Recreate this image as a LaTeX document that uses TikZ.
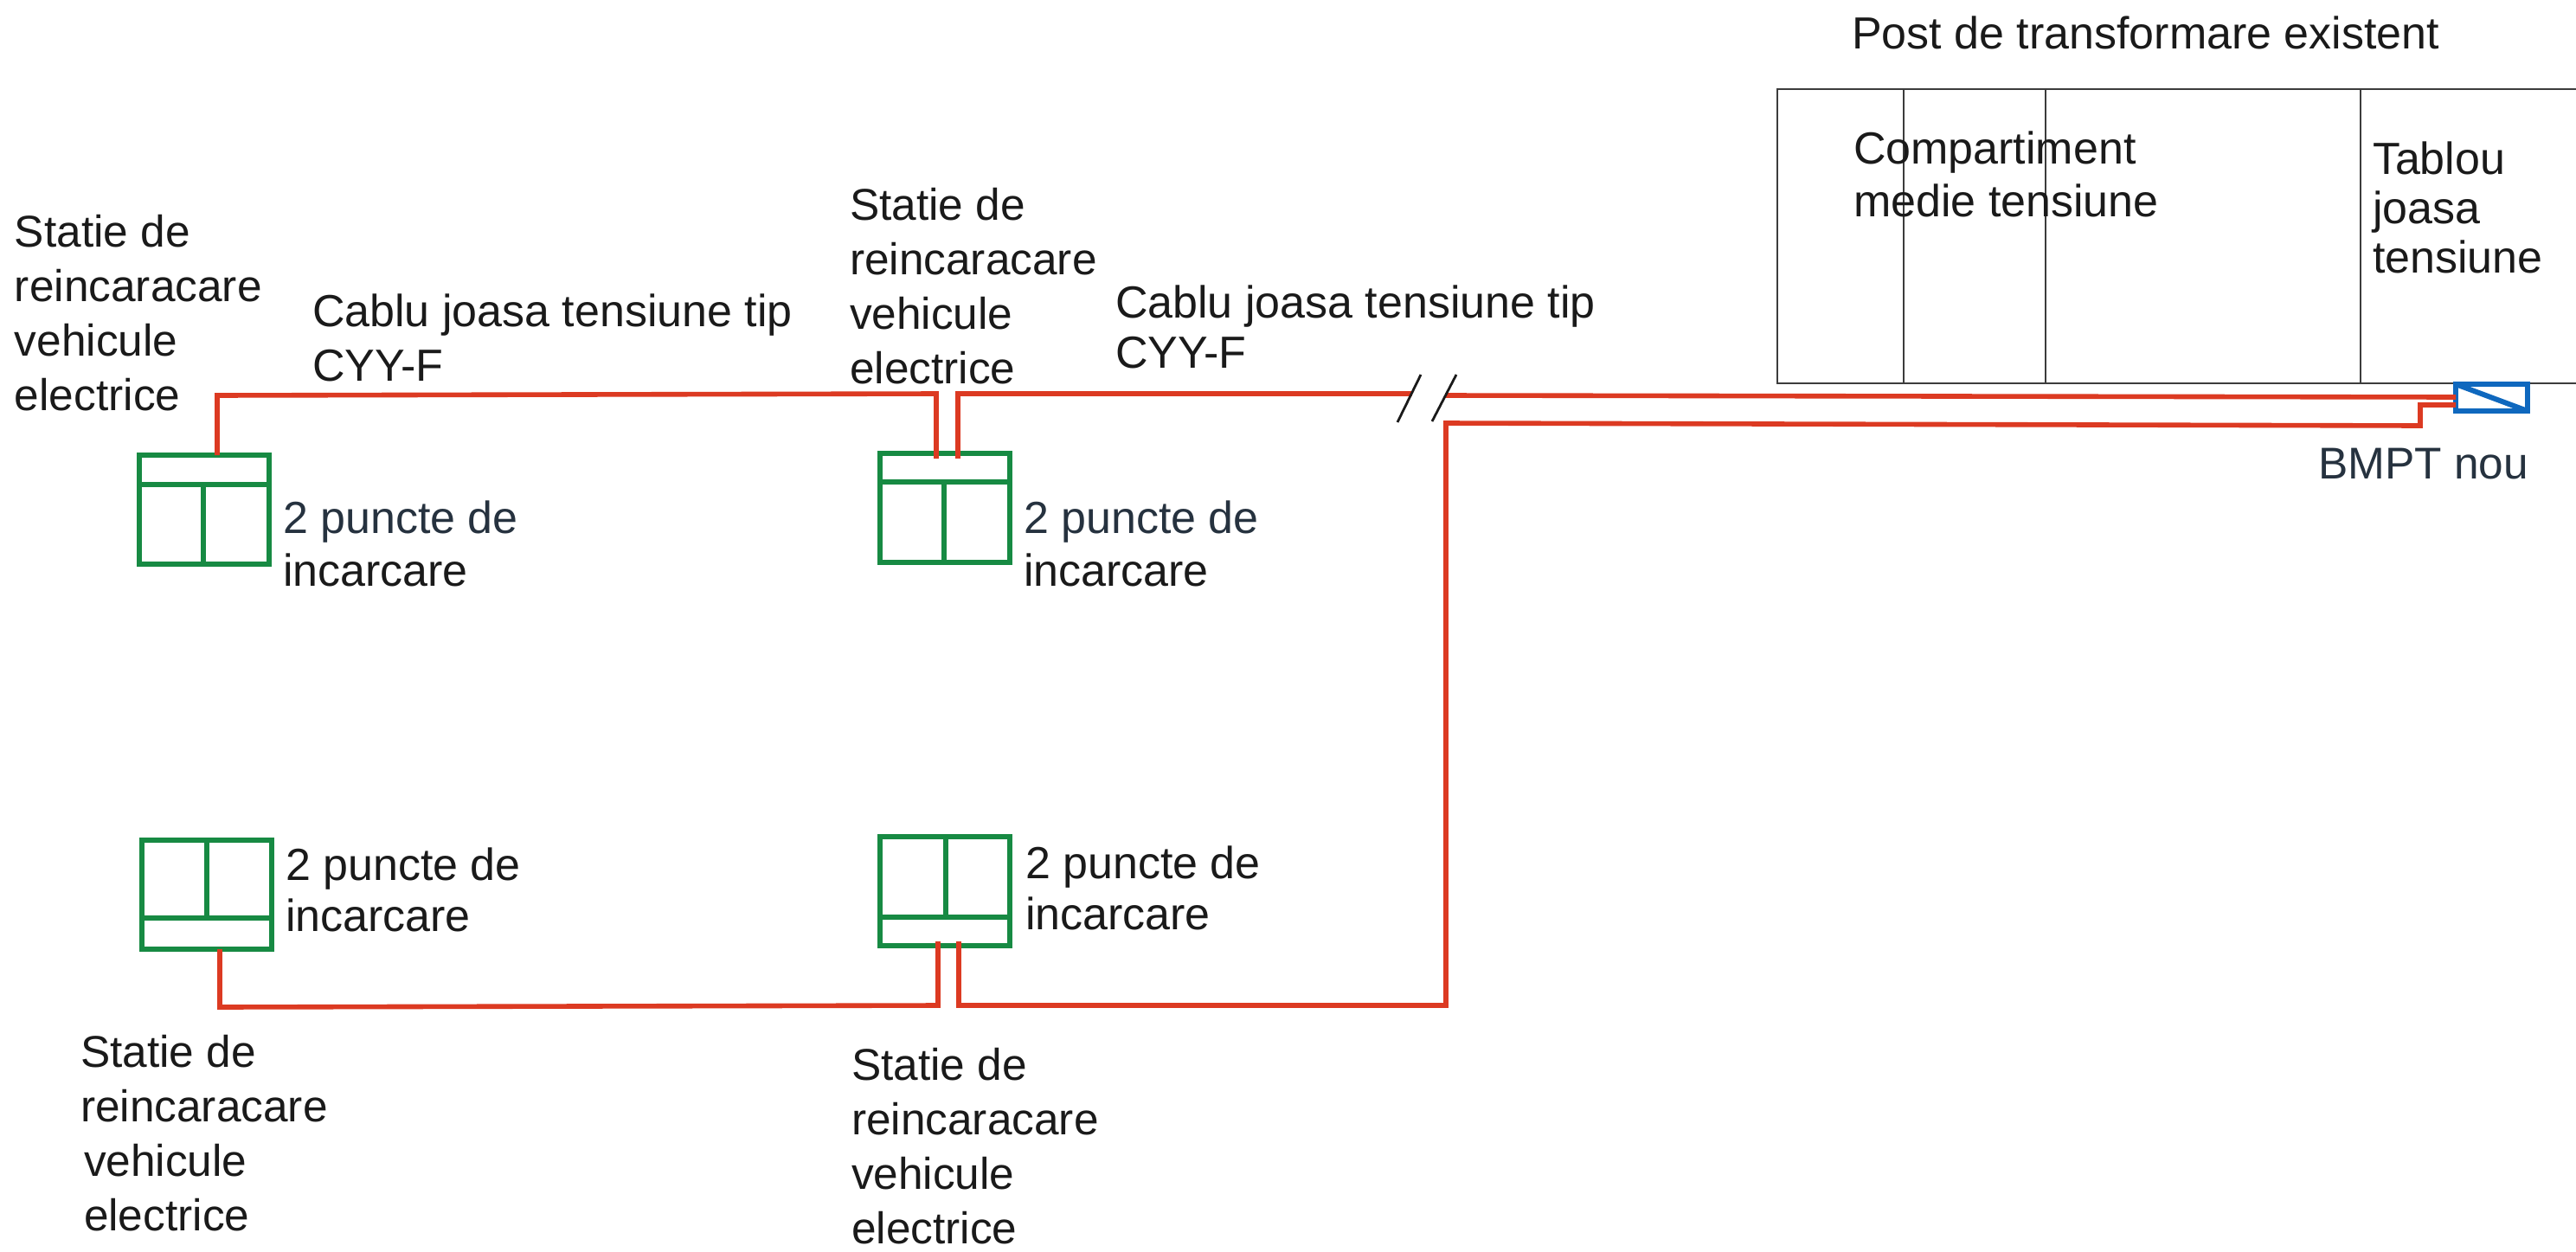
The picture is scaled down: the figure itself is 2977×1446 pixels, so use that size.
\documentclass[tikz,border=0pt]{standalone}
\usepackage{fontspec}
\setmainfont{Liberation Sans}
\definecolor{cable}{HTML}{DC3A22}
\definecolor{evgreen}{HTML}{178A43}
\definecolor{bmpt}{HTML}{0F68BE}
\definecolor{inkblue}{HTML}{26323F}
\definecolor{ink}{HTML}{1A1A1A}
\tikzset{
  lab/.style={anchor=north west,inner sep=0pt,outer sep=0pt,align=left,text=ink,font=\fontsize{26pt}{#1pt}\selectfont},
  lab/.default=31.5,
  labs/.style={anchor=north west,inner sep=0pt,outer sep=0pt,align=left,text=ink,font=\fontsize{25.7pt}{31.5pt}\selectfont},
  cablew/.style={draw=cable,line width=2.8pt,line join=miter},
  evbox/.style={draw=evgreen,line width=3pt,rectangle,inner sep=0pt,outer sep=0pt,minimum width=75pt,minimum height=63pt},
  evline/.style={draw=evgreen,line width=3pt},
  thin/.style={draw=ink!85,line width=0.8pt},
  brk/.style={draw=ink,line width=1.4pt}
}
\begin{document}
\begin{tikzpicture}[x=0.5pt,y=-0.5pt]
\useasboundingbox[fill=white] (0,0) rectangle (2977,1446);
% transformer station
\coordinate (pa) at (2054,103);
\coordinate (pb) at (2977,103);
\coordinate (pc) at (2977,443);
\coordinate (pd) at (2054,443);
\draw[thin] (pc) -- (pd) -- (pa) -- (pb);
\draw[thin] (2200,103) -- (2200,443);
\draw[thin] (2364,103) -- (2364,443);
\draw[thin] (2728,103) -- (2728,443);
\node[lab] (tpost) at (2140,19) {Post de transformare existent};
\node[lab=30.5] (tmv) at (2142,152) {Compartiment\\medie tensiune};
\node[lab=28.5] (tlv) at (2742,164) {Tablou\\joasa\\tensiune};
% chargers
\node[evbox] (e1) at (236,589) {};
\draw[evline] (e1.west |- 0,560) -- (e1.east |- 0,560);
\draw[evline] (235,560) -- (e1.south -| 235,0);
\node[evbox] (e2) at (1092,587) {};
\draw[evline] (e2.west |- 0,557) -- (e2.east |- 0,557);
\draw[evline] (1091,557) -- (e2.south -| 1091,0);
\node[evbox] (e3) at (239,1034) {};
\draw[evline] (e3.west |- 0,1061) -- (e3.east |- 0,1061);
\draw[evline] (239,1061) -- (e3.north -| 239,0);
\node[evbox] (e4) at (1092,1030) {};
\draw[evline] (e4.west |- 0,1060) -- (e4.east |- 0,1060);
\draw[evline] (1093,1060) -- (e4.north -| 1093,0);
% BMPT
\node[draw=bmpt,line width=3.2pt,rectangle,inner sep=0pt,outer sep=0pt,minimum width=41.5pt,minimum height=15.5pt] (bm) at (2879.5,459.5) {};
\draw[draw=bmpt,line width=3pt] (bm.north west) -- (bm.south east);
% cables
\coordinate (brkl) at (1632,455);
\coordinate (brkr) at (1670,457);
\draw[cablew] (e1.north -| 251,0) -- (251,457) -- (1082,455) -- (1082,530);
\draw[cablew] (1107,530) -- (1107,455) -- (brkl);
\draw[cablew] (brkr) -- (bm.west |- 0,459);
\draw[cablew] (e3.south -| 254,0) -- (254,1164) -- (1084,1162) -- (1084,1088);
\draw[cablew] (1108,1088) -- (1108,1162) -- (1671,1162) -- (1671,489) -- (2797,492) -- (2797,468) -- (bm.west |- 0,468);
% break marks
\draw[brk] (1642,433) -- (1615,488);
\draw[brk] (1683,433) -- (1655,487);
% labels
\node[labs] (s1) at (17,248) {Statie de\\reincaracare\\vehicule\\electrice};
\node[labs] (s2) at (982,217) {Statie de\\reincaracare\\vehicule\\electrice};
\node[labs] (s3) at (93,1196) {Statie de\\reincaracare\\\hspace*{2pt}vehicule\\\hspace*{2pt}electrice};
\node[labs] (s4) at (984,1211) {Statie de\\reincaracare\\vehicule\\electrice};
\node[lab] (c1) at (361,340) {Cablu joasa tensiune tip\\CYY-F};
\node[lab=29] (c2) at (1289,330) {Cablu joasa tensiune tip\\CYY-F};
\node[lab=30.5] (p1) at (327,579) {\textcolor{inkblue}{2 puncte de}\\incarcare};
\node[lab=30.5] (p2) at (1183,579) {\textcolor{inkblue}{2 puncte de}\\incarcare};
\node[lab=29.5] (p3) at (330,980) {2 puncte de\\incarcare};
\node[lab=29.5] (p4) at (1185,978) {2 puncte de\\incarcare};
\node[labs,text=inkblue] (bl) at (2679,518) {BMPT nou};
\end{tikzpicture}
\end{document}
